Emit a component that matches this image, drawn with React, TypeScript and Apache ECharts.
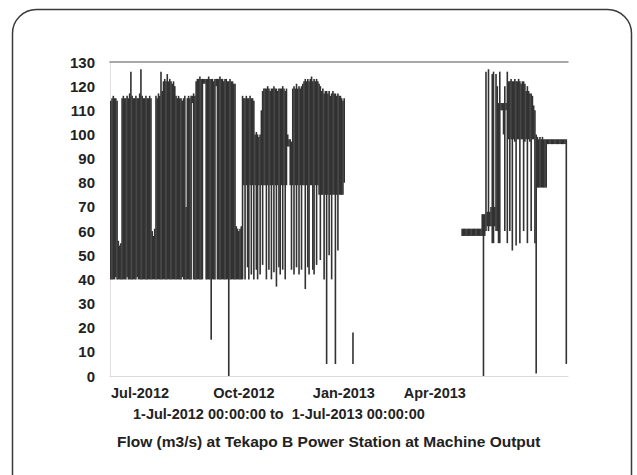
import React, { useEffect, useRef } from "react";
import * as echarts from "echarts";

// ---- Data (flow in m3/s). Each entry is one day: [lowest, highest] flow that day, null = no data.
const jul2012: ([number, number] | null)[] = [
  [40,114],[40,115],[40,116],[40,115],[41,115],[40,114],[40,56],[40,54],[40,55],[40,115],
  [40,116],[40,115],[40,115],[41,116],[40,115],[40,117],[40,126],[40,116],[40,115],[40,115],
  [40,116],[41,115],[40,115],[40,117],[40,127],[40,116],[40,115],[40,115],[40,116],[40,115],
  [40,115]
];
const aug2012: ([number, number] | null)[] = [
  [40,116],[40,115],[40,60],[40,58],[40,61],[40,116],[40,115],[40,117],[40,116],[40,126],
  [40,118],[40,122],[40,123],[40,122],[40,125],[40,122],[40,123],[40,122],[40,121],[40,122],
  [40,120],[40,116],[40,115],[40,116],[40,115],[40,115],[41,114],[40,115],[40,116],[40,70],
  [40,115]
];
const sep2012: ([number, number] | null)[] = [
  [40,116],[40,115],[40,116],[113,116],[40,117],[40,116],[40,122],[40,123],[40,123],[40,124],
  [40,123],[40,123],[121,123],[121,123],[40,123],[40,123],[40,124],[40,123],[15,123],[40,123],
  [40,122],[40,123],[120,123],[40,123],[40,123],[40,124],[40,123],[40,123],[40,122],[40,123]
];
const oct2012: ([number, number] | null)[] = [
  [40,123],[40,122],[0,122],[40,123],[40,122],[40,122],[40,121],[40,121],[40,62],[40,61],
  [40,60],[40,61],[40,62],[40,116],[79,115],[40,115],[79,116],[45,115],[40,115],[79,116],
  [42,115],[79,115],[40,114],[79,100],[44,101],[40,100],[79,99],[42,100],[79,110],[46,118],
  [79,119]
];
const nov2012: ([number, number] | null)[] = [
  [79,119],[40,119],[79,120],[44,119],[79,118],[40,119],[79,119],[43,120],[79,119],[37,119],
  [79,118],[45,119],[42,119],[79,119],[44,120],[79,119],[40,118],[79,119],[95,100],[95,98],
  [79,98],[44,97],[79,119],[42,120],[79,119],[45,121],[79,119],[42,120],[79,119],[44,120]
];
const dec2012: ([number, number] | null)[] = [
  [79,121],[79,122],[36,123],[79,122],[45,123],[42,122],[79,123],[79,124],[44,122],[42,123],
  [79,122],[46,123],[79,122],[75,121],[48,120],[75,118],[75,119],[40,117],[75,118],[5,118],
  [75,117],[50,118],[75,116],[40,117],[75,118],[75,117],[5,117],[75,116],[52,117],[75,116],
  [75,116]
];
const jan2013: ([number, number] | null)[] = [
  [75,115],[75,114],[80,115],null,null,null,null,null,null,[5,18]
];
// Feb and Mar 2013: no data (station outage)
const apr2013: ([number, number] | null)[] = [
  null,null,null,null,null,null,[58,61],[58,61],[58,61],[58,61],
  [58,61],[58,61],[58,61],[58,61],[58,61],[58,61],[58,61],[58,61],[58,61],[58,61],
  [58,61],[58,61],[58,67],[0,67],[58,67],[60,126],[62,68],[60,127],[62,68],[62,70]
];
const may2013: ([number, number] | null)[] = [
  [55,125],[55,126],[62,70],[60,125],[60,120],[55,113],[55,126],[110,113],[110,113],[100,113],
  [60,120],[110,113],[55,126],[98,122],[60,122],[98,123],[52,122],[98,122],[97,123],[54,122],
  [98,122],[98,123],[55,122],[98,121],[98,122],[60,122],[97,121],[98,118],[55,120],[98,118],
  [97,117]
];
const jun2013: ([number, number] | null)[] = [
  [60,117],[98,116],[98,112],[55,110],[1,100],[78,99],[78,98],[78,99],[78,98],[78,99],
  [78,98],[78,98],[78,98],[96,98],[96,98],[96,98],[96,98],[96,98],[96,98],[96,98],
  [96,98],[96,98],[96,98],[96,98],[96,98],[96,98],[96,98],[96,98],[5,98],null
];

const monthStarts: [number, number, ([number, number] | null)[]][] = [
  [2012, 6, jul2012], [2012, 7, aug2012], [2012, 8, sep2012], [2012, 9, oct2012],
  [2012, 10, nov2012], [2012, 11, dec2012], [2013, 0, jan2013], [2013, 3, apr2013],
  [2013, 4, may2013], [2013, 5, jun2013]
];

const xTickDates = ["2012-07-01", "2012-10-01", "2013-01-01", "2013-04-01"];
const xTickLabels = ["Jul-2012", "Oct-2012", "Jan-2013", "Apr-2013"];
const yMin = 0;
const yMax = 130;
const yStep = 10;
const rangeStart = "2012-07-01";
const rangeEnd = "2013-07-01";
const subtitleText = "1-Jul-2012 00:00:00 to  1-Jul-2013 00:00:00";
const titleText = "Flow (m3/s) at Tekapo B Power Station at Machine Output";

const DAY = 86400000;
const font = '"Liberation Sans", Arial, sans-serif';
const labelBase = { fontFamily: font, fontSize: 14.5, fontWeight: "bold", color: "#222" };
// label placement styles (as in the original print, labels sit slightly off their ticks)
const labelPads = [[0, 0, 0, 60], [0, 0, 0, 37], [0, 0, 0, 6], [0, 38, 0, 0]];

export default function App() {
  const ref = useRef<HTMLDivElement>(null);
  useEffect(() => {
    document.body.style.margin = "0";
    if (!ref.current) return;
    const chart = echarts.init(ref.current, undefined, { renderer: "svg" });

    const data: number[][] = [];
    monthStarts.forEach(([y, m, days]) => {
      days.forEach((d, i) => {
        if (d) data.push([Date.UTC(y, m, 1 + i), d[0], d[1]]);
      });
    });

    const tickMap: Record<string, number> = {};
    xTickDates.forEach((d, i) => {
      tickMap[String(Date.parse(d + "T00:00:00Z"))] = i;
    });
    const rich: Record<string, any> = {};
    labelPads.forEach((p, i) => {
      rich["s" + i] = { ...labelBase, padding: p };
    });

    chart.setOption({
      animation: false,
      useUTC: true,
      backgroundColor: "#ffffff",
      grid: { left: 110, right: 69, top: 62, bottom: 99 },
      title: [
        {
          text: subtitleText,
          left: 128,
          top: 401,
          textStyle: { ...labelBase, fontSize: 14.5 },
        },
        {
          text: titleText,
          left: 112,
          top: 428,
          textStyle: { ...labelBase, fontSize: 15.5 },
        },
      ],
      xAxis: [
        {
          type: "time",
          min: Date.parse(rangeStart + "T00:00:00Z"),
          max: Date.parse(rangeEnd + "T00:00:00Z"),
          splitNumber: 12,
          axisLine: { show: true, lineStyle: { color: "#d9d9d9", width: 1 } },
          axisTick: { show: false },
          splitLine: { show: false },
          axisLabel: {
            showMinLabel: true,
            showMaxLabel: false,
            hideOverlap: false,
            margin: 9,
            ...labelBase,
            rich,
            formatter: (v: number) => {
              const i = tickMap[String(v)];
              return i === undefined ? "" : `{s${i}|${xTickLabels[i]}}`;
            },
          },
        },
        {
          type: "value",
          position: "top",
          min: 0,
          max: 1,
          axisLine: { show: true, lineStyle: { color: "#8a8a8a", width: 1.5 } },
          axisTick: { show: false },
          axisLabel: { show: false },
          splitLine: { show: false },
        },
      ],
      yAxis: {
        type: "value",
        min: yMin,
        max: yMax,
        interval: yStep,
        axisLine: { show: true, lineStyle: { color: "#e0e0e0" } },
        axisTick: { show: false },
        splitLine: { show: false },
        axisLabel: { margin: 15, ...labelBase, fontSize: 15 },
      },
      series: [
        {
          type: "custom",
          xAxisIndex: 0,
          yAxisIndex: 0,
          encode: { x: 0, y: [1, 2] },
          data,
          renderItem: (_params: any, api: any) => {
            const t = api.value(0);
            const lo = api.coord([t, api.value(1)]);
            const hi = api.coord([t, api.value(2)]);
            const w = api.size([DAY, 0])[0];
            const h = Math.max(lo[1] - hi[1], 2.5);
            const cy = (lo[1] + hi[1]) / 2;
            return {
              type: "rect",
              shape: { x: lo[0], y: cy - h / 2, width: w + 0.35, height: h },
              style: { fill: "#323232", stroke: null },
            };
          },
        },
      ],
      graphic: [
        {
          type: "rect",
          silent: true,
          z: 100,
          shape: { x: 12.5, y: 9.5, width: 619, height: 540, r: 24 },
          style: { fill: "none", stroke: "#3a3a3a", lineWidth: 1.5 },
        },
      ],
    });
    return () => chart.dispose();
  }, []);
  return <div ref={ref} style={{ width: 637, height: 475 }} />;
}
